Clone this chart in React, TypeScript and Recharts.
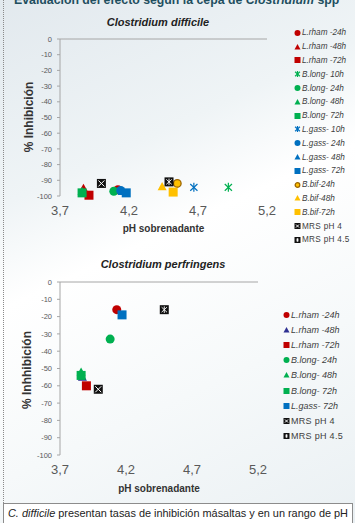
import type React from 'react';
import { ScatterChart, Scatter, XAxis, YAxis, ReferenceLine, Label } from 'recharts';

const xTicks = [3.7, 4.2, 4.7, 5.2];
const yTicks = [0, -10, -20, -30, -40, -50, -60, -70, -80, -90, -100];

// Clostridium difficile
const difNames = [
  'L.rham -24h', 'L.rham -48h', 'L.rham -72h',
  'B.long- 10h', 'B.long- 24h', 'B.long- 48h', 'B.long- 72h',
  'L.gass- 10h', 'L.gass- 24h', 'L.gass- 48h', 'L.gass- 72h',
  'B.bif-24h', 'B.bif-48h', 'B.bif-72h',
  'MRS pH 4', 'MRS pH 4.5',
];
const difPH = [4.12, 3.87, 3.91, 4.92, 4.09, 3.86, 3.86, 4.67, 4.14, 4.15, 4.18, 4.55, 4.44, 4.52, 4.0, 4.49];
const difInhib = [-96, -95, -99.5, -94.5, -97, -97, -98, -94.5, -96.5, -97, -98, -92, -94, -97.5, -92, -91];

// Clostridium perfringens
const perNames = [
  'L.rham -24h', 'L.rham -48h', 'L.rham -72h',
  'B.long- 24h', 'B.long- 48h', 'B.long- 72h',
  'L.gass- 72h', 'MRS pH 4', 'MRS pH 4.5',
];
const perPH = [4.13, 3.87, 3.9, 4.08, 3.86, 3.86, 4.17, 3.99, 4.49];
const perInhib = [-16, -55, -60, -33, -52, -54, -19, -62, -16];

const RED = '#C00000';
const GREEN = '#00B050';
const BLUE = '#0070C0';
const GOLD = '#FFC000';
const NAVY = '#2E3192';
const BLACK = '#111111';

type Kind = 'circle' | 'ring' | 'triangle' | 'square' | 'star' | 'xbox' | 'starbox' | 'none';

const difStyle: [Kind, string][] = [
  ['circle', RED], ['triangle', RED], ['square', RED],
  ['star', GREEN], ['circle', GREEN], ['triangle', GREEN], ['square', GREEN],
  ['star', BLUE], ['circle', BLUE], ['triangle', BLUE], ['square', BLUE],
  ['ring', GOLD], ['triangle', GOLD], ['square', GOLD],
  ['xbox', BLACK], ['starbox', BLACK],
];
const perStyle: [Kind, string][] = [
  ['circle', RED], ['triangle', NAVY], ['square', RED],
  ['circle', GREEN], ['triangle', GREEN], ['square', GREEN],
  ['square', BLUE], ['xbox', BLACK], ['starbox', BLACK],
];

const FONT = '"Liberation Sans", Arial, sans-serif';
const AXIS = '#A6A6A6';
const TICK = '#595959';

function Marker({ kind, color, cx, cy, s }: { kind: Kind; color: string; cx: number; cy: number; s: number }) {
  const h = s / 2;
  switch (kind) {
    case 'circle':
      return <circle cx={cx} cy={cy} r={h} fill={color} />;
    case 'ring':
      return <circle cx={cx} cy={cy} r={h - 0.7} fill={color} stroke="#9C6500" strokeWidth={1.3} />;
    case 'triangle':
      return <polygon points={`${cx},${cy - h} ${cx + h},${cy + h * 0.8} ${cx - h},${cy + h * 0.8}`} fill={color} />;
    case 'square':
      return <rect x={cx - h} y={cy - h} width={s} height={s} fill={color} />;
    case 'star':
      return (
        <g stroke={color} strokeWidth={1.2}>
          <line x1={cx} y1={cy - h} x2={cx} y2={cy + h} />
          <line x1={cx - h * 0.8} y1={cy - h * 0.75} x2={cx + h * 0.8} y2={cy + h * 0.75} />
          <line x1={cx - h * 0.8} y1={cy + h * 0.75} x2={cx + h * 0.8} y2={cy - h * 0.75} />
        </g>
      );
    case 'xbox':
      return (
        <g>
          <rect x={cx - h} y={cy - h} width={s} height={s} fill={color} />
          <g stroke="#fff" strokeWidth={1}>
            <line x1={cx - h + 1.5} y1={cy - h + 1.5} x2={cx + h - 1.5} y2={cy + h - 1.5} />
            <line x1={cx - h + 1.5} y1={cy + h - 1.5} x2={cx + h - 1.5} y2={cy - h + 1.5} />
          </g>
        </g>
      );
    case 'starbox':
      return (
        <g>
          <rect x={cx - h} y={cy - h} width={s} height={s} fill={color} />
          <g stroke="#fff" strokeWidth={0.9}>
            <line x1={cx} y1={cy - h + 1.2} x2={cx} y2={cy + h - 1.2} />
            <line x1={cx - h + 1.8} y1={cy - h + 2} x2={cx + h - 1.8} y2={cy + h - 2} />
            <line x1={cx - h + 1.8} y1={cy + h - 2} x2={cx + h - 1.8} y2={cy - h + 2} />
          </g>
        </g>
      );
    default:
      return null;
  }
}

const fmt = (v: number) => String(v).replace('.', ',');

function Panel({
  names, ph, inhib, style, width, height, margin, yLabel, yLabelX, yLabelY, xHeight, xLabelOffset,
}: {
  names: string[]; ph: number[]; inhib: number[]; style: [Kind, string][];
  width: number; height: number; margin: { top: number; right: number; left: number; bottom: number };
  yLabel: string; yLabelX: number; yLabelY: number; xHeight: number; xLabelOffset: number;
}) {
  return (
    <ScatterChart width={width} height={height} margin={margin}>
      <XAxis
        type="number"
        dataKey="x"
        domain={[3.7, 5.2]}
        ticks={xTicks}
        tickFormatter={fmt}
        interval={0}
        axisLine={false}
        tickLine={false}
        tickSize={0}
        tickMargin={10}
        height={xHeight}
        tick={{ fontSize: 13, fill: TICK, fontFamily: FONT }}
      >
        <Label
          value="pH sobrenadante"
          position="insideBottom"
          offset={xLabelOffset}
          style={{ fontSize: 10, fontWeight: 700, fill: '#333', fontFamily: FONT }}
        />
      </XAxis>
      <YAxis
        type="number"
        dataKey="y"
        domain={[-100, 0]}
        ticks={yTicks}
        interval={0}
        width={60}
        axisLine={{ stroke: AXIS }}
        tickLine={{ stroke: AXIS }}
        tickSize={3}
        tickMargin={5}
        tick={{ fontSize: 7.5, fill: TICK, fontFamily: FONT }}
      >
        <Label
          content={() => (
            <text
              x={yLabelX}
              y={yLabelY}
              transform={`rotate(-90, ${yLabelX}, ${yLabelY})`}
              textAnchor="middle"
              dominantBaseline="central"
              style={{ fontSize: 12, fontWeight: 700, fill: '#333', fontFamily: FONT }}
            >
              {yLabel}
            </text>
          )}
        />
      </YAxis>
      <ReferenceLine y={0} stroke={AXIS} />
      {names.map((n, i) => (
        <Scatter
          key={n}
          name={n}
          data={[{ x: ph[i], y: inhib[i] }]}
          isAnimationActive={false}
          shape={(p: any) => <Marker kind={style[i][0]} color={style[i][1]} cx={p.cx} cy={p.cy} s={9} />}
        />
      ))}
    </ScatterChart>
  );
}

function LegendBox({
  names, style, left, top, step, fontSize,
}: { names: string[]; style: [Kind, string][]; left: number; top: number; step: number; fontSize: number }) {
  return (
    <div style={{ position: 'absolute', left, top }}>
      {names.map((n, i) => {
        const mrs = n.startsWith('MRS');
        return (
          <div key={n} style={{ position: 'absolute', top: i * step, left: 0, height: step, display: 'flex', alignItems: 'center', whiteSpace: 'nowrap' }}>
            <svg width={7} height={8} style={{ flex: 'none' }}>
              <Marker kind={style[i][0]} color={style[i][1]} cx={3.5} cy={4} s={6} />
            </svg>
            <span
              style={{
                fontFamily: FONT,
                fontSize,
                fontStyle: mrs ? 'normal' : 'italic',
                letterSpacing: mrs ? 0.3 : 0,
                color: '#404040',
                marginLeft: 1,
              }}
            >
              {n}
            </span>
          </div>
        );
      })}
    </div>
  );
}

export default function App(): React.ReactElement {
  return (
    <div
      style={{
        position: 'absolute',
        left: 0,
        top: 0,
        width: 355,
        height: 523,
        overflow: 'hidden',
        background: 'linear-gradient(155deg, #e2e9ee 0%, #eff4f6 30%, #ffffff 45%, #f6f9fa 70%, #eaf0f3 100%)',
        fontFamily: FONT,
      }}
    >
      <div
        style={{
          position: 'absolute',
          left: 14,
          top: -7,
          fontSize: 12.3,
          fontWeight: 700,
          color: '#1F4F5F',
          whiteSpace: 'nowrap',
        }}
      >
        Evaluación del efecto según la cepa de <i>Clostridium</i> spp
      </div>
      <div style={{ position: 'absolute', left: 3, top: 0, height: 505, borderLeft: '1px dotted #8a8a8a' }} />

      {/* C. difficile */}
      <div style={{ position: 'absolute', left: 0, top: 0 }}>
        <Panel
          names={difNames}
          ph={difPH}
          inhib={difInhib}
          style={difStyle}
          width={355}
          height={245}
          margin={{ top: 39, right: 88, left: 0, bottom: 0 }}
          yLabel="% Inhibición"
          yLabelX={29}
          yLabelY={117}
          xHeight={49}
          xLabelOffset={13}
        />
      </div>
      <div style={{ position: 'absolute', left: 103, top: 16, width: 110, textAlign: 'center', fontSize: 11, fontWeight: 700, fontStyle: 'italic', color: '#222' }}>
        Clostridium difficile
      </div>
      <LegendBox names={difNames} style={difStyle} left={294} top={26} step={13.8} fontSize={8.2} />

      {/* C. perfringens */}
      <div style={{ position: 'absolute', left: 0, top: 245 }}>
        <Panel
          names={perNames}
          ph={perPH}
          inhib={perInhib}
          style={perStyle}
          width={355}
          height={255}
          margin={{ top: 37, right: 97, left: 0, bottom: 0 }}
          yLabel="% Inhhibición"
          yLabelX={27}
          yLabelY={125}
          xHeight={45}
          xLabelOffset={8}
        />
      </div>
      <div style={{ position: 'absolute', left: 93, top: 258, width: 140, textAlign: 'center', fontSize: 11, fontWeight: 700, fontStyle: 'italic', color: '#222' }}>
        Clostridium perfringens
      </div>
      <LegendBox names={perNames} style={perStyle} left={283} top={307} step={15.2} fontSize={9} />

      {/* note box */}
      <div style={{ position: 'absolute', left: 3, top: 503, width: 348, height: 40, border: '1px solid #8c8c8c', background: '#fff' }}>
        <svg width={348} height={20} style={{ position: 'absolute', left: 0, top: 0 }}>
          <text x={4} y={13} textLength={340} lengthAdjust="spacingAndGlyphs" style={{ fontSize: 10.5, fill: '#222', fontFamily: FONT }}>
            <tspan fontStyle="italic">C. difficile</tspan> presentan tasas de inhibición másaltas y en un rango de pH
          </text>
        </svg>
      </div>
    </div>
  );
}
